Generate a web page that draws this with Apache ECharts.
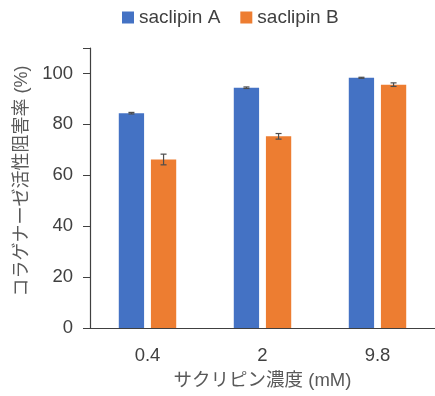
<!DOCTYPE html>
<html><head><meta charset="utf-8">
<script src="https://cdn.jsdelivr.net/npm/echarts@6/dist/echarts.min.js"></script>
<style>html,body{margin:0;padding:0;background:#fff}#c{width:435px;height:396px}</style>
</head><body><div id="c"></div>
<script>
var categories = ['0.4', '2', '9.8'];
var seriesNames = ['saclipin A', 'saclipin B'];
var valuesA = [84.4, 94.4, 98.3];
var errorsA = [0.3, 0.3, 0.2];
var valuesB = [66.2, 75.3, 95.6];
var errorsB = [2.1, 1.1, 0.7];
var yTicks = [0, 20, 40, 60, 80, 100];

var FONT = '"Liberation Sans", "Noto Sans CJK JP", sans-serif';
var BAR_W = 0.22, GAP = 0.27;
var colors = ['#4472C4', '#ED7D31'];

function errSeries(vals, errs, idx) {
  return {
    type: 'custom', silent: true, z: 5,
    data: vals.map(function (v, i) { return [i, v, errs[i]]; }),
    renderItem: function (params, api) {
      var i = api.value(0), v = api.value(1), e = api.value(2);
      var band = api.size([1, 0])[0];
      var bw = band * BAR_W;
      var off = (bw + bw * GAP) / 2 * (idx === 0 ? -1 : 1);
      var hi = api.coord([i, v + e]), lo = api.coord([i, v - e]);
      var x = hi[0] + off;
      var cap = 3;
      var st = { stroke: '#4d4d4d', lineWidth: 1.2 };
      return { type: 'group', children: [
        { type: 'line', shape: { x1: x, y1: hi[1], x2: x, y2: lo[1] }, style: st },
        { type: 'line', shape: { x1: x - cap, y1: hi[1], x2: x + cap, y2: hi[1] }, style: st },
        { type: 'line', shape: { x1: x - cap, y1: lo[1], x2: x + cap, y2: lo[1] }, style: st }
      ]};
    }
  };
}

var chart = echarts.init(document.getElementById('c'));
chart.setOption({
  animation: false,
  textStyle: { fontFamily: FONT },
  color: colors,
  legend: {
    top: 3, left: 117, itemWidth: 12, itemHeight: 12, itemGap: 20, icon: 'rect',
    data: seriesNames,
    textStyle: { fontSize: 19, color: '#404040', fontFamily: FONT }
  },
  grid: { left: 90, top: 48, width: 352, height: 280, containLabel: false },
  xAxis: {
    type: 'category', data: categories,
    axisLine: { lineStyle: { color: '#404040', width: 1.2 } },
    axisTick: { show: false },
    axisLabel: { fontSize: 18.5, color: '#404040', margin: 19, fontFamily: FONT },
    name: 'サクリピン濃度 (mM)', nameLocation: 'middle', nameGap: 44,
    nameTextStyle: { fontSize: 18.5, color: '#595959', fontFamily: FONT }
  },
  yAxis: {
    type: 'value', min: 0, max: 110, interval: 20,
    axisLine: { show: true, lineStyle: { color: '#404040', width: 1.2 } },
    axisTick: { show: true, length: 7, lineStyle: { color: '#404040' } },
    splitLine: { show: false },
    axisLabel: { fontSize: 18.5, color: '#404040', margin: 17, fontFamily: FONT,
      formatter: function (v) { return yTicks.indexOf(v) >= 0 ? String(v) : ''; } },
    name: 'コラゲナーゼ活性阻害率 (%)', nameLocation: 'middle', nameGap: 57,
    nameTextStyle: { fontSize: 18, color: '#595959', fontFamily: FONT, padding: [0, 0, 0, 14] }
  },
  series: [
    { name: seriesNames[0], type: 'bar', data: valuesA, barWidth: (BAR_W * 100) + '%', barGap: (GAP * 100) + '%' },
    { name: seriesNames[1], type: 'bar', data: valuesB, barWidth: (BAR_W * 100) + '%', barGap: (GAP * 100) + '%' },
    errSeries(valuesA, errorsA, 0),
    errSeries(valuesB, errorsB, 1)
  ]
});
</script></body></html>
